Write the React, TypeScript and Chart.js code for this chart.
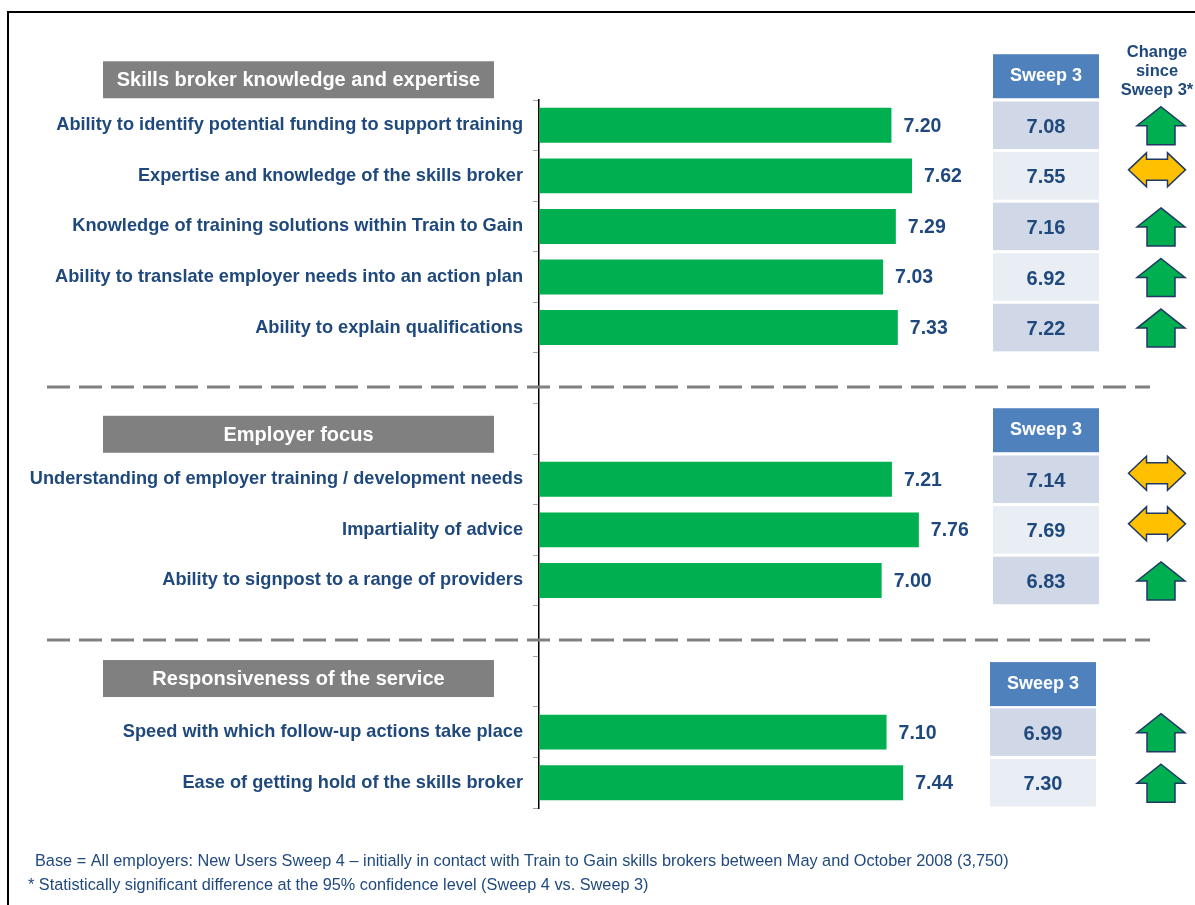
import React, { useEffect, useRef } from "react";
import { Chart, registerables } from "chart.js";

Chart.register(...registerables);

const categories = [
  "Ability to identify potential funding to support training",
  "Expertise and knowledge of the skills broker",
  "Knowledge of training solutions within Train to Gain",
  "Ability to translate employer needs into an action plan",
  "Ability to explain qualifications",
  "",
  "",
  "Understanding of employer training / development needs",
  "Impartiality of advice",
  "Ability to signpost to a range of providers",
  "",
  "",
  "Speed with which follow-up actions take place",
  "Ease of getting hold of the skills broker",
];
const sweep4Values = [7.2, 7.62, 7.29, 7.03, 7.33, null, null, 7.21, 7.76, 7.0, null, null, 7.1, 7.44];
const sweep3Values = [7.08, 7.55, 7.16, 6.92, 7.22, null, null, 7.14, 7.69, 6.83, null, null, 6.99, 7.3];
const changeSinceSweep3 = ["up", "same", "up", "up", "up", null, null, "same", "same", "up", null, null, "up", "up"];
const sectionTitles = ["Skills broker knowledge and expertise", "Employer focus", "Responsiveness of the service"];
const sectionTitleRows = [-0.9, 6.11, 10.94];
const sweepHeaderRows = [-0.97, 6.03, 11.05];
const sectionRows = [[0, 1, 2, 3, 4], [7, 8, 9], [12, 13]];
const dividerRows = [5.18, 10.18];
const footnotes = [
  "Base = All employers: New Users Sweep 4 \u2013 initially in contact with Train to Gain skills brokers between May and October 2008 (3,750)",
  "* Statistically significant difference at the 95% confidence level (Sweep 4 vs. Sweep 3)",
];

const FONT = "Arial, 'Liberation Sans', sans-serif";
const NAVY = "#1F497D";

function drawUpArrow(ctx: CanvasRenderingContext2D, cx: number, cy: number) {
  const hw = 24, sw = 14, top = cy - 19, headBottom = cy, bottom = cy + 19;
  ctx.beginPath();
  ctx.moveTo(cx, top);
  ctx.lineTo(cx + hw, headBottom);
  ctx.lineTo(cx + sw, headBottom);
  ctx.lineTo(cx + sw, bottom);
  ctx.lineTo(cx - sw, bottom);
  ctx.lineTo(cx - sw, headBottom);
  ctx.lineTo(cx - hw, headBottom);
  ctx.closePath();
  ctx.fillStyle = "#00B050";
  ctx.fill();
  ctx.lineWidth = 1.5;
  ctx.strokeStyle = "#1F3864";
  ctx.stroke();
}

function drawDoubleArrow(ctx: CanvasRenderingContext2D, cx: number, cy: number) {
  const hw = 28.5, hl = 18, bh = 10.5, hh = 17;
  ctx.beginPath();
  ctx.moveTo(cx - hw, cy);
  ctx.lineTo(cx - hw + hl, cy - hh);
  ctx.lineTo(cx - hw + hl, cy - bh);
  ctx.lineTo(cx + hw - hl, cy - bh);
  ctx.lineTo(cx + hw - hl, cy - hh);
  ctx.lineTo(cx + hw, cy);
  ctx.lineTo(cx + hw - hl, cy + hh);
  ctx.lineTo(cx + hw - hl, cy + bh);
  ctx.lineTo(cx - hw + hl, cy + bh);
  ctx.lineTo(cx - hw + hl, cy + hh);
  ctx.closePath();
  ctx.fillStyle = "#FFC000";
  ctx.fill();
  ctx.lineWidth = 1.5;
  ctx.strokeStyle = "#1F3864";
  ctx.stroke();
}

const decorPlugin = {
  id: "decor",
  afterDraw(chart: any) {
    const ctx: CanvasRenderingContext2D = chart.ctx;
    const y = chart.scales.y;
    const meta = chart.getDatasetMeta(0);
    ctx.save();

    // frame
    ctx.strokeStyle = "#000";
    ctx.lineWidth = 2;
    ctx.strokeRect(8, 12, 1400, 1200);

    // value labels
    ctx.font = `bold 19.5px ${FONT}`;
    ctx.fillStyle = NAVY;
    ctx.textAlign = "left";
    ctx.textBaseline = "middle";
    meta.data.forEach((bar: any, i: number) => {
      const v = sweep4Values[i];
      if (v == null) return;
      ctx.fillText(v.toFixed(2), bar.x + 12, bar.y + 1);
    });

    // section titles
    sectionTitles.forEach((t, i) => {
      const cy = y.getPixelForValue(sectionTitleRows[i]);
      ctx.fillStyle = "#808080";
      ctx.fillRect(103, cy - 18.5, 391, 37);
      ctx.fillStyle = "#FFFFFF";
      ctx.font = `bold 20px ${FONT}`;
      ctx.textAlign = "center";
      ctx.fillText(t, 298.5, cy + 1);
    });

    // dividers
    ctx.setLineDash([23, 9]);
    ctx.strokeStyle = "#808080";
    ctx.lineWidth = 3;
    dividerRows.forEach((r) => {
      const py = Math.round(y.getPixelForValue(r));
      ctx.beginPath();
      ctx.moveTo(47, py);
      ctx.lineTo(1150, py);
      ctx.stroke();
    });
    ctx.setLineDash([]);

    // Sweep 3 table
    const rowH = y.getPixelForValue(1) - y.getPixelForValue(0);
    sectionRows.forEach((rows, s) => {
      const left = s === 2 ? 990 : 993;
      const w = 106;
      const hy = y.getPixelForValue(sweepHeaderRows[s]);
      ctx.fillStyle = "#4F81BD";
      ctx.fillRect(left, hy - 22, w, 44);
      ctx.fillStyle = "#FFFFFF";
      ctx.font = `bold 18px ${FONT}`;
      ctx.textAlign = "center";
      ctx.fillText("Sweep 3", left + w / 2, hy);
      rows.forEach((r, k) => {
        const cy = y.getPixelForValue(r);
        ctx.fillStyle = k % 2 === 0 ? "#D0D8E8" : "#E9EDF4";
        ctx.fillRect(left, cy - rowH / 2 + 1.5, w, rowH - 3);
        ctx.fillStyle = NAVY;
        ctx.font = `bold 20px ${FONT}`;
        ctx.fillText((sweep3Values[r] as number).toFixed(2), left + w / 2, cy + 2);
      });
    });

    // change header
    ctx.fillStyle = NAVY;
    ctx.font = `bold 16.5px ${FONT}`;
    ctx.textAlign = "center";
    ["Change", "since", "Sweep 3*"].forEach((t, i) => ctx.fillText(t, 1157, 52 + i * 19));

    // arrows
    changeSinceSweep3.forEach((c, i) => {
      if (!c) return;
      const cy = y.getPixelForValue(i);
      if (c === "up") drawUpArrow(ctx, 1161, cy + 0.5);
      else drawDoubleArrow(ctx, 1157, cy - 6);
    });

    // footnotes
    ctx.fillStyle = NAVY;
    ctx.font = `16.3px ${FONT}`;
    ctx.textAlign = "left";
    ctx.fillText(footnotes[0], 35, 862);
    ctx.fillText(footnotes[1], 28, 886);

    ctx.restore();
  },
};

export default function App() {
  const ref = useRef<HTMLCanvasElement | null>(null);
  useEffect(() => {
    if (!ref.current) return;
    const chart = new Chart(ref.current, {
      type: "bar",
      data: {
        labels: categories,
        datasets: [
          {
            data: sweep4Values as any,
            backgroundColor: "#00B050",
            borderWidth: 0,
            barPercentage: 0.69,
            categoryPercentage: 1,
          },
        ],
      },
      options: {
        indexAxis: "y",
        responsive: false,
        devicePixelRatio: 1,
        animation: false,
        layout: { padding: { left: 0, top: 100, bottom: 97, right: 166.5 } },
        plugins: { legend: { display: false }, tooltip: { enabled: false } },
        scales: {
          x: { display: false, min: 0, max: 10 },
          y: {
            afterFit: (scale: any) => {
              scale.width = 539;
            },
            border: { display: true, color: "#000", width: 1.5 },
            grid: { display: true, drawOnChartArea: false, drawTicks: true, tickLength: 6, color: "#A6A6A6", offset: true },
            ticks: {
              padding: 10,
              color: NAVY,
              font: { family: FONT, size: 18.2, weight: "bold" },
              autoSkip: false,
            },
          },
        },
      },
      plugins: [decorPlugin],
    });
    return () => chart.destroy();
  }, []);
  return (
    <div style={{ position: "absolute", left: 0, top: 0, width: 1195, height: 905, background: "#fff" }}>
      <canvas ref={ref} width={1195} height={905} />
    </div>
  );
}
